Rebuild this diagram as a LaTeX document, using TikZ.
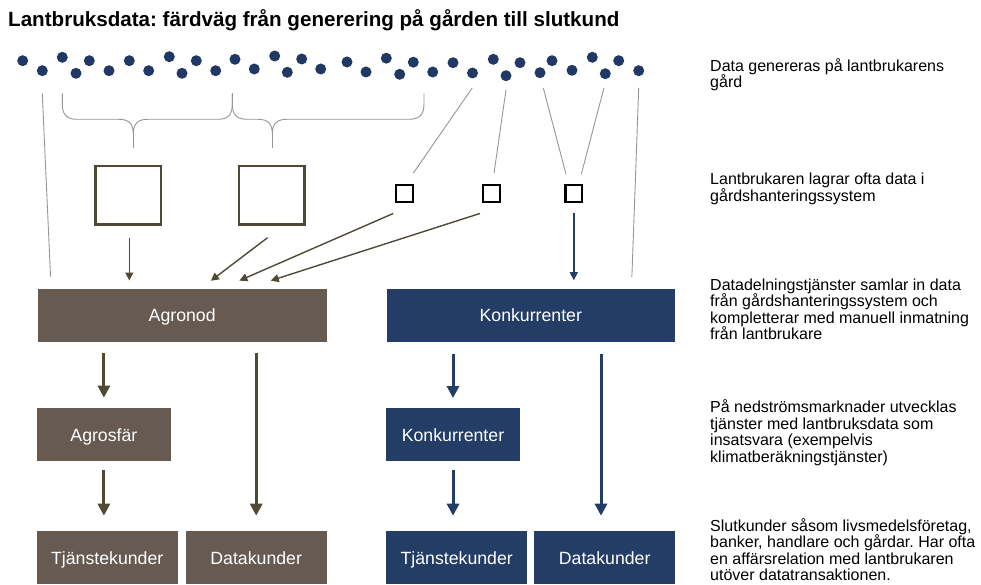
\documentclass[tikz,border=0pt]{standalone}
\usepackage{fontspec}
\setmainfont{Liberation Sans}
\usetikzlibrary{arrows.meta}
\frenchspacing

\definecolor{dotblue}{RGB}{31,56,100}
\definecolor{boxbrown}{RGB}{103,91,81}
\definecolor{boxblue}{RGB}{35,61,102}
\definecolor{arrolive}{RGB}{79,74,52}
\definecolor{lightline}{RGB}{150,150,150}

\tikzset{
	datadot/.style={circle, fill=dotblue, minimum size=11pt, inner sep=0pt},
	gmsbox/.style={draw=arrolive, line width=2.3pt, minimum width=65.7pt, minimum height=58.4pt, inner sep=0pt},
	smallsq/.style={draw=black, line width=2.3pt, minimum size=16.7pt, inner sep=0pt},
	flowbox/.style={minimum height=53pt, inner sep=0pt, text height=12.7pt, text depth=0pt, text=white, font=\fontsize{17.7}{20}\selectfont},
	brownbox/.style={flowbox, fill=boxbrown},
	bluebox/.style={flowbox, fill=boxblue},
	feed/.style={draw=lightline, line width=0.9pt},
	curly/.style={draw=lightline, line width=0.9pt},
	thinarrow/.style={line width=1.4pt, -{Triangle[width=8pt,length=8pt]}},
	thickarrow/.style={line width=3pt, -{Triangle[width=12pt,length=12pt]}},
	note/.style={anchor=west, align=left, inner sep=0pt, font=\fontsize{16}{16.5}\selectfont},
	titletext/.style={anchor=base west, inner sep=0pt, font=\fontsize{20.6}{24}\selectfont\bfseries}
}

\begin{document}
\begin{tikzpicture}[x=1pt,y=-1pt]
	\useasboundingbox (0,0) rectangle (981,585);
	
	% title
	\node[titletext] (title) at (8,27) {Lantbruksdata: färdväg från generering på gården till slutkund};
	
	% data points on the farm
	\foreach \x/\y [count=\i] in {22.7/60.7, 42.3/70.7, 62.3/57.3, 76/73.3, 89.3/60.7, 109/70.7,
		129.3/60.7, 148.7/70.7, 169.3/56.7, 182/73.3, 196.3/60.7, 215.7/70.7,
		235/59.3, 254.3/69, 274.7/56, 287.3/72.3, 301.7/59, 320.7/69,
		347/62, 366/72, 386.3/58.2, 399.7/74.3, 413.3/62.2, 432.7/72,
		453/62.7, 472.5/73, 493.3/59.3, 506/75.7, 520/62.7, 540/72.7,
		552/60.7, 572/70.3, 592.3/57.3, 605.3/73.7, 618.7/60.7, 638.7/70.7}
		\node[datadot] (d\i) at (\x,\y) {};
	
	% farm management systems
	\node[gmsbox] (gms1) at (128.3,195.3) {};
	\node[gmsbox] (gms2) at (271.7,195.3) {};
	\node[smallsq] (sq1) at (404.5,193.4) {};
	\node[smallsq] (sq2) at (491.5,193.4) {};
	\node[smallsq] (sq3) at (573.8,193.6) {};
	
	% data sharing services
	\node[brownbox, minimum width=289pt] (agronod) at (182.2,315.5) {Agronod};
	\node[bluebox, minimum width=288.3pt] (konk) at (530.8,315.2) {Konkurrenter};
	
	% downstream markets
	\node[brownbox, minimum width=134.3pt] (agrosfar) at (103.9,434.7) {Agrosfär};
	\node[bluebox, minimum width=134pt] (konk2) at (453,434.7) {Konkurrenter};
	
	% end customers
	\node[brownbox, minimum width=141pt] (tjanst1) at (107.2,557.7) {Tjänstekunder};
	\node[brownbox, minimum width=141pt] (datak1) at (256.2,557.7) {Datakunder};
	\node[bluebox, minimum width=141.3pt] (tjanst2) at (456.7,557.7) {Tjänstekunder};
	\node[bluebox, minimum width=140.7pt] (datak2) at (604.7,557.7) {Datakunder};
	
	% braces
	\draw[curly] (62.3,93.3) -- (62.3,104) .. controls (62.3,115) and (67,119.3) .. (77,119.3)
		-- (119,119.3) .. controls (129,119.3) and (133.3,124) .. (133.3,134)
		.. controls (133.3,124) and (137.6,119.3) .. (147.6,119.3)
		-- (218,119.3) .. controls (228,119.3) and (232.3,115) .. (232.3,104) -- (232.3,93.3);
	\draw[curly] (133.3,134) -- (133.3,148);
	\draw[curly] (232.3,93.3) -- (232.3,104) .. controls (232.3,115) and (237,119.3) .. (247,119.3)
		-- (258,119.3) .. controls (268,119.3) and (272.3,124) .. (272.3,134)
		.. controls (272.3,124) and (276.6,119.3) .. (286.6,119.3)
		-- (409,119.3) .. controls (419,119.3) and (424,115) .. (424,104) -- (424,93.3);
	\draw[curly] (272.3,134) -- (272.3,148);
	
	% lines from data points
	\draw[feed, shorten <=17.1pt, shorten >=12.3pt] ([xshift=-0.8pt]d2.south) -- ([xshift=13.6pt]agronod.north west);
	\draw[feed, shorten <=11.2pt, shorten >=13pt] ([xshift=6.1pt]d26.south) -- ([xshift=1.4pt]sq1.north);
	\draw[feed, shorten <=8.2pt, shorten >=10.8pt] ([xshift=1.2pt]d28.south) -- ([xshift=1pt]sq2.north);
	\draw[feed, shorten <=9.8pt, shorten >=10.3pt] ([xshift=0.8pt]d30.south) -- ([xshift=-5.2pt]sq3.north);
	\draw[feed, shorten <=8.8pt, shorten >=10.3pt] ([xshift=0.9pt]d34.south) -- ([xshift=4.9pt]sq3.north);
	\draw[feed, shorten <=11.5pt, shorten >=11.6pt] ([xshift=0.4pt]d36.south) -- ([xshift=-43.7pt]konk.north east);
	
	% arrows into the data sharing services
	\draw[thinarrow, arrolive, shorten <=12.1pt, shorten >=8.3pt] ([xshift=1pt]gms1.south) -- ([xshift=1pt]gms1.south |- agronod.north);
	\draw[thinarrow, arrolive, shorten <=19.9pt, shorten >=13.3pt] ([xshift=11.7pt]gms2.south) -- ([xshift=18.1pt]agronod.north);
	\draw[thinarrow, arrolive, shorten <=26.5pt, shorten >=20.5pt] ([xshift=13pt]sq1.south) -- ([xshift=38.4pt]agronod.north);
	\draw[thinarrow, arrolive, shorten <=34.6pt, shorten >=26.7pt] ([xshift=21.4pt]sq2.south) -- ([xshift=63.1pt]agronod.north);
	\draw[thinarrow, boxblue, shorten <=10.2pt, shorten >=8.3pt] (sq3.south) -- (sq3.south |- konk.north);
	
	% arrows downstream
	\draw[thickarrow, arrolive, shorten <=11pt, shorten >=10.3pt] (agronod.south -| agrosfar.north) -- (agrosfar.north);
	\draw[thickarrow, arrolive, shorten <=11pt, shorten >=15.3pt] (agronod.south -| datak1.north) -- (datak1.north);
	\draw[thickarrow, arrolive, shorten <=9pt, shorten >=15.3pt] (agrosfar.south) -- (agrosfar.south |- tjanst1.north);
	\draw[thickarrow, boxblue, shorten <=12pt, shorten >=10pt] (konk.south -| konk2.north) -- (konk2.north);
	\draw[thickarrow, boxblue, shorten <=12pt, shorten >=15.3pt] ([xshift=-3.7pt]konk.south -| datak2.north) -- ([xshift=-3.7pt]datak2.north);
	\draw[thickarrow, boxblue, shorten <=9pt, shorten >=15.3pt] (konk2.south) -- (konk2.south |- tjanst2.north);
	
	% descriptions
	\node[note] (txt1) at (710,74.5) {Data genereras på lantbrukarens\\gård};
	\node[note] (txt2) at (710,189) {Lantbrukaren lagrar ofta data i\\gårdshanteringssystem};
	\node[note] (txt3) at (710,309.5) {Datadelningstjänster samlar in data\\från gårdshanteringssystem och\\kompletterar med manuell inmatning\\från lantbrukare};
	\node[note] (txt4) at (710,432.5) {På nedströmsmarknader utvecklas\\tjänster med lantbruksdata som\\insatsvara (exempelvis\\klimatberäkningstjänster)};
	\node[note] (txt5) at (710,549.5) {Slutkunder såsom livsmedelsföretag,\\banker, handlare och gårdar. Har ofta\\en affärsrelation med lantbrukaren\\utöver datatransaktionen.};
	
\end{tikzpicture}
\end{document}
